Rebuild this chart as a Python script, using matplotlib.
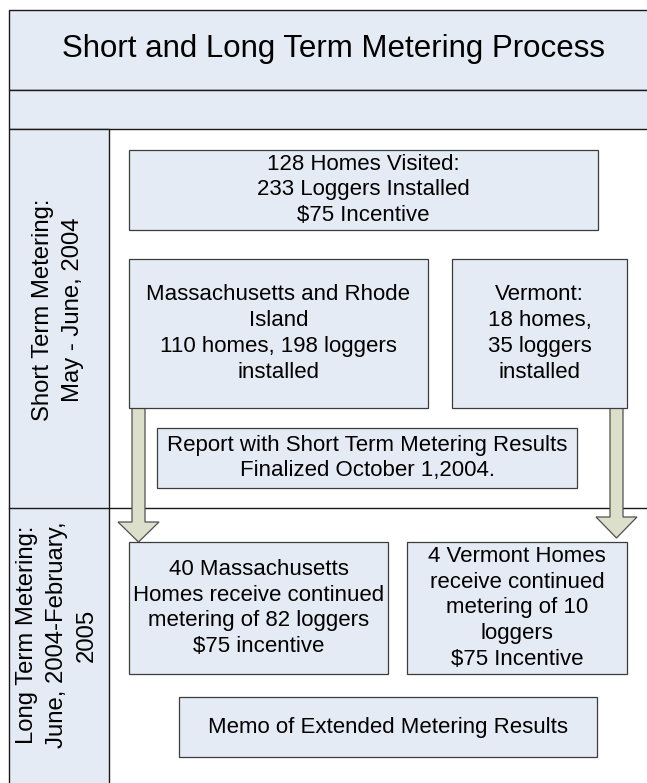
import matplotlib
matplotlib.use("Agg")
import matplotlib.pyplot as plt
from matplotlib.patches import Rectangle, Polygon

plt.rcParams['font.family'] = ['Liberation Sans', 'DejaVu Sans']

# ------------------------------------------------------------
# content
# ------------------------------------------------------------
title = "Short and Long Term Metering Process"

lane_labels = [
    "Short Term Metering:\nMay - June, 2004",
    "Long Term Metering:\nJune, 2004-February,\n2005",
]

box_texts = [
    "128 Homes Visited:\n233 Loggers Installed\n$75 Incentive",
    "Massachusetts and Rhode\nIsland\n110 homes, 198 loggers\ninstalled",
    "Vermont:\n18 homes,\n35 loggers\ninstalled",
    "Report with Short Term Metering Results\nFinalized October 1,2004.",
    "40 Massachusetts\nHomes receive continued\nmetering of 82 loggers\n$75 incentive",
    "4 Vermont Homes\nreceive continued\nmetering of 10\nloggers\n$75 Incentive",
    "Memo of Extended Metering Results",
]

# ------------------------------------------------------------
# layout (pixel space, y grows downward)
# ------------------------------------------------------------
W, H = 647, 783
box_rects = [  # x0, y0, x1, y1
    (129, 150, 598, 230),
    (129, 259, 428, 408),
    (452, 259, 627, 408),
    (157, 428, 577, 488),
    (129, 542, 388, 674),
    (407, 542, 627, 674),
    (179, 697, 597, 757),
]
# shaft x0, shaft x1, top y, head y, tip y, head half-width
arrows = [
    (132, 145, 408, 522, 542, 20.5),
    (610, 623, 408, 517, 538, 20.5),
]

FILL = '#E5EBF5'
EDGE = '#3C3C3C'
ARROW_FILL = '#DCE0CA'

fig = plt.figure(figsize=(W / 100, H / 100), dpi=100)
ax = fig.add_axes([0, 0, 1, 1])
ax.set_xlim(0, W)
ax.set_ylim(H, 0)
ax.axis('off')

# swimlane frame
frame_left, frame_top, col_right = 9, 10, 109
ax.add_patch(Rectangle((frame_left, frame_top), W + 5 - frame_left, 80,
                       fc=FILL, ec='#1A1A1A', lw=1.0))
ax.add_patch(Rectangle((frame_left, 90), W + 5 - frame_left, 39,
                       fc=FILL, ec='#1A1A1A', lw=1.0))
ax.add_patch(Rectangle((frame_left, 129), col_right - frame_left, H,
                       fc=FILL, ec='#1A1A1A', lw=1.0))
ax.plot([frame_left, W + 5], [508, 508], color='#1A1A1A', lw=1.0)

ax.text(333, 49, title, ha='center', va='center', fontsize=22.5)

ax.text(58, 310, lane_labels[0], rotation=90, ha='center', va='center',
        fontsize=17.2, linespacing=1.45, multialignment='center')
ax.text(57, 635, lane_labels[1], rotation=90, ha='center', va='center',
        fontsize=17.2, linespacing=1.45, multialignment='center')

# arrows (drawn under the boxes)
for sx0, sx1, ytop, yhead, ytip, hw in arrows:
    cx = (sx0 + sx1) / 2
    pts = [(sx0, ytop), (sx1, ytop), (sx1, yhead), (cx + hw, yhead),
           (cx, ytip), (cx - hw, yhead), (sx0, yhead)]
    ax.add_patch(Polygon(pts, closed=True, fc=ARROW_FILL, ec='#505050',
                         lw=0.9, zorder=2))

for (x0, y0, x1, y1), txt in zip(box_rects, box_texts):
    ax.add_patch(Rectangle((x0, y0), x1 - x0, y1 - y0, fc=FILL, ec=EDGE,
                           lw=0.9, zorder=3))
    ax.text((x0 + x1) / 2, (y0 + y1) / 2, txt, ha='center', va='center',
            fontsize=16, linespacing=1.3, multialignment='center', zorder=4)

fig.savefig('out.png', dpi=100)
